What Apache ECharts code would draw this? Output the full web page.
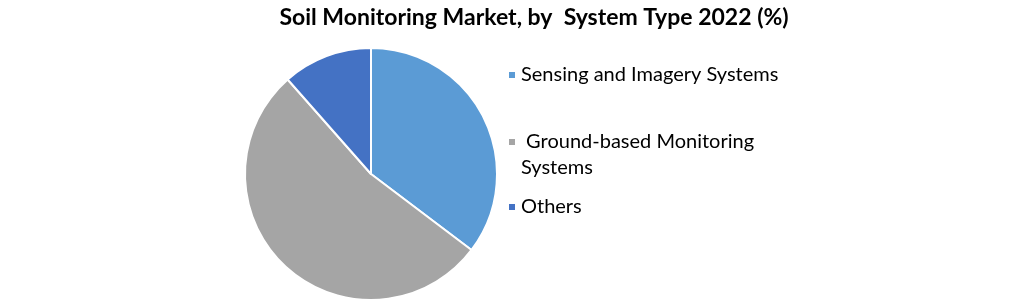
<!DOCTYPE html>
<html>
<head>
<meta charset="utf-8">
<script src="https://cdn.jsdelivr.net/npm/echarts@6/dist/echarts.min.js"></script>
<style>
html,body{margin:0;padding:0;background:#fff;}
#c{width:1021px;height:304px;}
</style>
</head>
<body>
<div id="c"></div>
<script>
const titleText = 'Soil Monitoring Market, by  System Type 2022 (%)';
const categories = ['Sensing and Imagery Systems', ' Ground-based Monitoring\nSystems', 'Others'];
const values = [35.3, 53.2, 11.5];
const colors = ['#5B9BD5', '#A5A5A5', '#4472C4'];

const chart = echarts.init(document.getElementById('c'));
const FONT = 'Lato';
const legendText = {fontFamily: FONT, fontSize: 20, color: '#000', lineHeight: 26};
const legendBase = {orient: 'vertical', left: 507, padding: 0, itemWidth: 8, itemHeight: 8,
  icon: 'rect', itemGap: 0, textStyle: legendText, selectedMode: false};

chart.setOption({
  animation: false,
  title: {
    text: titleText,
    left: 534, top: 6, textAlign: 'center', padding: 0,
    textStyle: {fontFamily: FONT, fontWeight: 'bold', fontSize: 23, color: '#000'}
  },
  legend: [
    Object.assign({}, legendBase, {top: 62, data: [categories[0]]}),
    Object.assign({}, legendBase, {top: 103, data: [categories[1]], formatter: n => '\n' + n}),
    Object.assign({}, legendBase, {top: 194, data: [categories[2]]})
  ],
  series: [{
    type: 'pie',
    center: [371, 174],
    radius: 126,
    startAngle: 90,
    clockwise: true,
    label: {show: false},
    labelLine: {show: false},
    itemStyle: {borderColor: '#fff', borderWidth: 2},
    emphasis: {disabled: true},
    data: categories.map((n, i) => ({name: n, value: values[i], itemStyle: {color: colors[i]}}))
  }]
});
</script>
</body>
</html>
